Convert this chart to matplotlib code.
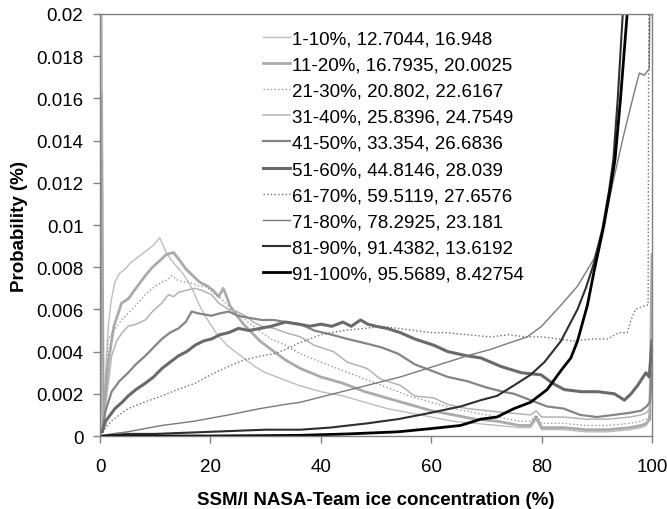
import matplotlib
matplotlib.use("Agg")
import matplotlib.pyplot as plt
from matplotlib.ticker import FuncFormatter, MultipleLocator

plt.rcParams['font.family'] = ['Liberation Sans', 'DejaVu Sans']

labels = ["1-10%, 12.7044, 16.948", "11-20%, 16.7935, 20.0025", "21-30%, 20.802, 22.6167",
          "31-40%, 25.8396, 24.7549", "41-50%, 33.354, 26.6836", "51-60%, 44.8146, 28.039",
          "61-70%, 59.5119, 27.6576", "71-80%, 78.2925, 23.181", "81-90%, 91.4382, 13.6192",
          "91-100%, 95.5689, 8.42754"]

x1 = [0, 0.25, 0.6, 1, 1.5, 2, 2.7, 3.5, 4.5, 5.5, 6.5, 7.5, 8.5, 9.5, 10.2, 10.8, 11.3, 12, 13, 14, 15, 16, 17, 18, 19, 20, 21, 22, 23, 24, 26, 28, 30, 33, 36, 40, 44, 48, 52, 56, 60, 64, 68, 72, 76, 78, 79, 80, 84, 88, 92, 96, 98, 99, 99.6, 100]
y1 = [0.0003, 0.03, 0.0004, 0.0030, 0.0052, 0.0064, 0.0073, 0.0077, 0.0079, 0.0082, 0.0084, 0.0086, 0.0088, 0.0090, 0.0092, 0.0094, 0.0091, 0.0087, 0.0083, 0.0080, 0.0077, 0.0073, 0.0068, 0.0062, 0.0057, 0.0053, 0.0049, 0.0046, 0.0043, 0.0041, 0.0037, 0.0033, 0.0030, 0.0027, 0.0024, 0.0021, 0.0019, 0.0016, 0.0013, 0.0011, 0.0009, 0.0007, 0.0006, 0.0005, 0.0004, 0.0004, 0.0008, 0.0003, 0.0003, 0.0002, 0.0002, 0.0003, 0.0004, 0.0005, 0.0010, 0.0040]

x2 = [0, 0.25, 0.6, 1, 1.5, 2.5, 3.9, 5.1, 6.5, 8.2, 9.5, 11.2, 12, 13.3, 14.5, 15.6, 16.8, 18, 19.5, 20.5, 21.5, 22.3, 22.8, 23.5, 24.5, 26, 27.5, 29, 30.5, 33.6, 36.3, 40, 44, 48, 52, 56, 60, 64, 68, 72, 76, 78, 79, 80, 84, 88, 92, 96, 98, 99, 99.6, 100]
y2 = [0.0002, 0.0162, 0.0005, 0.0020, 0.0035, 0.0052, 0.0063, 0.0065, 0.0070, 0.0076, 0.0080, 0.0084, 0.0086, 0.0087, 0.0083, 0.0079, 0.0076, 0.0073, 0.0071, 0.0069, 0.0066, 0.0070, 0.0067, 0.0062, 0.0058, 0.0053, 0.0049, 0.0045, 0.0042, 0.0036, 0.0032, 0.0028, 0.0025, 0.0021, 0.0018, 0.0015, 0.0012, 0.0010, 0.0008, 0.0007, 0.0005, 0.0005, 0.0009, 0.0004, 0.0004, 0.0003, 0.0003, 0.0004, 0.0005, 0.0006, 0.0008, 0.0086]

x3 = [0, 0.25, 0.6, 1, 1.5, 2.5, 3.9, 5, 6.5, 8.2, 9.5, 11.2, 12.2, 13, 14, 15, 16, 17, 18, 19, 20, 21, 22, 23.5, 25, 26.3, 27.8, 29.3, 31, 33.6, 36.3, 40, 44, 48, 52, 56, 60, 64, 68, 72, 76, 78, 79, 80, 84, 88, 92, 96, 98, 99, 99.6, 100]
y3 = [0.0002, 0.0131, 0.0006, 0.0022, 0.0046, 0.0050, 0.0055, 0.0058, 0.0062, 0.0067, 0.0070, 0.0073, 0.0074, 0.0076, 0.0074, 0.0073, 0.0073, 0.0072, 0.0071, 0.0071, 0.0069, 0.0067, 0.0065, 0.0061, 0.0058, 0.0055, 0.0052, 0.0049, 0.0046, 0.0043, 0.0039, 0.0035, 0.0031, 0.0027, 0.0023, 0.0019, 0.0016, 0.0013, 0.0011, 0.0009, 0.0007, 0.0007, 0.0010, 0.0006, 0.0006, 0.0005, 0.0005, 0.0006, 0.0007, 0.0008, 0.0010, 0.0030]

x4 = [0, 0.25, 0.6, 1, 2.1, 3, 4, 5.1, 6.5, 8.2, 9.5, 11.2, 12.4, 13.3, 14.2, 15.5, 17.2, 18.5, 20.2, 21.5, 23.3, 24.8, 26.3, 27.8, 29.3, 31.5, 33.6, 36.3, 38.8, 42.3, 44.8, 48.4, 50.8, 54.4, 57, 60.5, 63, 66.5, 70, 74, 78, 79, 80, 84, 88, 92, 96, 98, 99, 99.6, 100]
y4 = [0.0002, 0.0030, 0.0004, 0.0015, 0.0038, 0.0045, 0.0049, 0.0052, 0.0053, 0.0055, 0.0059, 0.0063, 0.0067, 0.0066, 0.0068, 0.0069, 0.0070, 0.0069, 0.0067, 0.0063, 0.0060, 0.0059, 0.0057, 0.0054, 0.0052, 0.0051, 0.0049, 0.0047, 0.0043, 0.0040, 0.0035, 0.0032, 0.0027, 0.0024, 0.0019, 0.0018, 0.0015, 0.0013, 0.0012, 0.0011, 0.0010, 0.0012, 0.0009, 0.0009, 0.0008, 0.0008, 0.0009, 0.0010, 0.0011, 0.0013, 0.0030]

x5 = [0, 0.4, 1, 2.1, 3.5, 5.1, 6.5, 8.2, 9.7, 11.2, 12.7, 14.2, 15.5, 16.6, 18, 20.2, 21.5, 23.3, 25, 27, 29.3, 31.5, 33.6, 36.3, 38.8, 42, 44.8, 48, 51, 54, 57, 60, 63, 66.5, 70, 73, 75, 78, 81, 84, 87, 90, 93, 96, 98, 99, 99.6, 100]
y5 = [0.0003, 0.0003, 0.0012, 0.0021, 0.0026, 0.0030, 0.0034, 0.0038, 0.0042, 0.0046, 0.0049, 0.0051, 0.0054, 0.0059, 0.0058, 0.0057, 0.0058, 0.0059, 0.0057, 0.0056, 0.0055, 0.0055, 0.0054, 0.0053, 0.0050, 0.0048, 0.0046, 0.0044, 0.0042, 0.0039, 0.0034, 0.0031, 0.0028, 0.0026, 0.0023, 0.0021, 0.0020, 0.0017, 0.0014, 0.0013, 0.0010, 0.0009, 0.0010, 0.0011, 0.0012, 0.0014, 0.0016, 0.0030]

x6 = [0, 0.4, 1, 2.7, 4, 5.1, 6.5, 8.2, 9.7, 11.2, 12.7, 14.2, 15.7, 17.2, 18.7, 20.2, 21.7, 23.3, 25.1, 27, 29, 31, 33.6, 36, 38, 40, 42, 44, 45.5, 47.2, 48.5, 50, 52, 54.4, 57, 60.5, 63, 66.5, 69, 72.6, 76.3, 79.9, 82, 84.1, 87.2, 90.2, 93.2, 95, 96.2, 97.4, 98.9, 99.5, 100]
y6 = [0.0002, 0.0002, 0.0007, 0.0013, 0.0016, 0.0019, 0.0022, 0.0025, 0.0028, 0.0032, 0.0035, 0.0038, 0.0040, 0.0043, 0.0045, 0.0046, 0.0048, 0.0049, 0.0051, 0.0050, 0.0051, 0.0052, 0.0054, 0.0053, 0.0052, 0.0053, 0.0052, 0.0054, 0.0052, 0.0055, 0.0053, 0.0052, 0.0051, 0.0049, 0.0046, 0.0043, 0.0040, 0.0038, 0.0037, 0.0033, 0.0030, 0.0029, 0.0025, 0.0022, 0.0021, 0.0021, 0.0020, 0.0017, 0.0020, 0.0024, 0.0030, 0.0028, 0.0045]

x7 = [0, 0.4, 1, 2, 3.5, 5.1, 8, 11.2, 14, 17.2, 20, 23.3, 26, 29.3, 31.5, 33.6, 36, 38, 40, 44, 48, 50.8, 54, 56.9, 60, 62.9, 66.5, 70.7, 74, 77, 80, 83, 86, 89, 92, 94, 95.5, 96.2, 97, 98, 99, 99.3, 99.5, 100]
y7 = [0.0001, 0.0001, 0.0004, 0.0007, 0.0010, 0.0013, 0.0016, 0.0019, 0.0022, 0.0025, 0.0029, 0.0033, 0.0036, 0.0038, 0.0039, 0.0041, 0.0044, 0.0046, 0.0048, 0.0050, 0.0051, 0.0052, 0.0051, 0.0050, 0.0049, 0.0049, 0.0048, 0.0047, 0.0048, 0.0047, 0.0047, 0.0046, 0.0045, 0.0046, 0.0046, 0.0049, 0.0049, 0.0055, 0.0060, 0.0061, 0.0062, 0.0062, 0.03, 0.03]

x8 = [0, 0.4, 2, 5, 11.2, 17, 23.3, 29, 33.6, 36.3, 42.3, 48.4, 54.4, 60.5, 65.3, 66.5, 70.7, 74, 77.4, 80, 83.5, 86.5, 89.5, 91.3, 92.9, 95, 96.8, 97.7, 98.6, 99.5, 100]
y8 = [0, 0, 0.0001, 0.0002, 0.0005, 0.0007, 0.0010, 0.0013, 0.0015, 0.0016, 0.0020, 0.0024, 0.0028, 0.0033, 0.0037, 0.0038, 0.0041, 0.0044, 0.0047, 0.0052, 0.0062, 0.0071, 0.0084, 0.0100, 0.0120, 0.0144, 0.0163, 0.0172, 0.0171, 0.0174, 0.03]

x9 = [0, 0.4, 5, 10, 20, 30, 36.3, 41.7, 48.4, 54, 59.9, 65.3, 69, 71.9, 75, 78, 80.5, 83.5, 86.5, 88, 89.5, 91, 92.2, 93, 93.8, 94.7, 95.5, 96.5, 98, 100]
y9 = [0, 0, 0.0001, 0.0001, 0.0002, 0.0003, 0.0003, 0.0004, 0.0006, 0.0008, 0.0011, 0.0014, 0.0017, 0.0019, 0.0024, 0.0029, 0.0035, 0.0045, 0.0060, 0.0070, 0.0082, 0.0098, 0.0116, 0.0131, 0.0160, 0.0200, 0.024, 0.03, 0.04, 0.05]

x10 = [0, 10, 20, 36, 45, 54, 59.9, 65.3, 69, 71.9, 75, 78, 81, 83.5, 85.3, 86.5, 88.3, 89.5, 91.3, 92.5, 93.3, 94.3, 95.5, 96.5, 98, 100]
y10 = [0, 0, 0, 0.00003, 0.0001, 0.0002, 0.00035, 0.0005, 0.0008, 0.0009, 0.0013, 0.0016, 0.0022, 0.0031, 0.0037, 0.0045, 0.0062, 0.0078, 0.0100, 0.0118, 0.0131, 0.0160, 0.0200, 0.025, 0.035, 0.06]

xs = [x1, x2, x3, x4, x5, x6, x7, x8, x9, x10]
ys = [y1, y2, y3, y4, y5, y6, y7, y8, y9, y10]

colors = ['#bdbdbd', '#ababab', '#9a9a9a', '#b3b3b3', '#858585', '#6a6a6a', '#6e6e6e', '#7a7a7a', '#2e2e2e', '#000000']
widths = [1.0, 2.0, 1.0, 1.1, 1.6, 2.2, 1.0, 1.0, 1.5, 2.0]
styles = ['-', '-', ':', '-', '-', '-', ':', '-', '-', '-']

fig = plt.figure(figsize=(6.67, 5.10), dpi=100)
ax = fig.add_axes([0.15, 0.1431, 0.8275, 0.8275])

for x, y, c, w, s, lab in zip(xs, ys, colors, widths, styles, labels):
    ax.plot(x, y, color=c, lw=w, ls=s, label=lab)

ax.set_xlim(0, 100)
ax.set_ylim(0, 0.02)
ax.xaxis.set_major_locator(MultipleLocator(20))
ax.yaxis.set_major_locator(MultipleLocator(0.002))
ax.yaxis.set_major_formatter(FuncFormatter(lambda v, p: '0' if abs(v) < 1e-12 else ('%g' % round(v, 4))))
ax.tick_params(direction='out', length=5, width=1, color='#808080', labelsize=13.5)
ax.tick_params(axis='x', pad=11)
ax.tick_params(axis='y', pad=7)

for sp in ax.spines.values():
    sp.set_color('#808080')
    sp.set_linewidth(1)

ax.set_xlabel('SSM/I NASA-Team ice concentration (%)', fontsize=13.5, fontweight='bold', labelpad=11)
ax.set_ylabel('Probability (%)', fontsize=13.5, fontweight='bold')
ax.yaxis.set_label_coords(-0.130, 0.5)

leg = ax.legend(loc='upper left', bbox_to_anchor=(0.2817, 0.979), frameon=False,
                fontsize=13.5, handlelength=1.44, handletextpad=0.1, labelspacing=0.48,
                borderaxespad=0)

fig.savefig('out.png', dpi=100)
